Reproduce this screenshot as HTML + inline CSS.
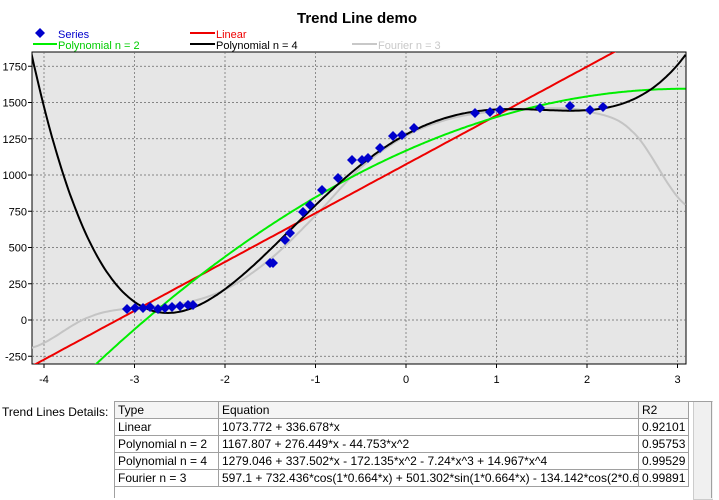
<!DOCTYPE html><html><head><meta charset="utf-8"><style>
body{margin:0;width:719px;height:498px;background:#fff;font-family:"Liberation Sans",sans-serif;overflow:hidden}
svg{position:absolute;left:0;top:0}
.t{position:absolute;font-size:12px}
table{position:absolute;left:114px;top:401px;border-collapse:collapse;font-size:12px;background:#fff}
td{border:1px solid #a0a0a0;padding:0 3px;height:16px;white-space:nowrap;overflow:hidden}
</style></head><body>
<svg width="719" height="400" id="s" font-family="Liberation Sans, sans-serif">
<text x="357" y="23" text-anchor="middle" font-size="15" font-weight="bold">Trend Line demo</text>
<path d="M40 28 L45 33 L40 38 L35 33Z" fill="#0000cc"/>
<text x="58" y="38" font-size="11" fill="#0000cc">Series</text>
<line x1="190" y1="33" x2="215" y2="33" stroke="#e00" stroke-width="2"/><text x="216" y="38" font-size="11" fill="#e00">Linear</text>
<line x1="33" y1="44" x2="57" y2="44" stroke="#0e0" stroke-width="2"/><text x="58" y="49" font-size="11" fill="#0c0">Polynomial n = 2</text>
<line x1="190" y1="44" x2="215" y2="44" stroke="#000" stroke-width="2"/><text x="216" y="49" font-size="11">Polynomial n = 4</text>
<line x1="352" y1="44" x2="377" y2="44" stroke="#c8c8c8" stroke-width="2"/><text x="378" y="49" font-size="11" fill="#c8c8c8">Fourier n = 3</text>
<rect x="32" y="52" width="654" height="312" fill="#e6e6e6" stroke="#000"/>
<g id="g"></g>
<defs><clipPath id="c"><rect x="32" y="52" width="654" height="312"/></clipPath></defs>
<g id="curves" clip-path="url(#c)"></g>
</svg>
<div class="t" style="left:2px;top:405px">Trend Lines Details:</div>
<table>
<tr style="background:#f4f4f4"><td style="width:97px">Type</td><td style="width:413px">Equation</td><td style="width:42px">R2</td></tr>
<tr><td>Linear</td><td>1073.772 + 336.678*x</td><td>0.92101</td></tr>
<tr><td>Polynomial n = 2</td><td>1167.807 + 276.449*x - 44.753*x^2</td><td>0.95753</td></tr>
<tr><td>Polynomial n = 4</td><td>1279.046 + 337.502*x - 172.135*x^2 - 7.24*x^3 + 14.967*x^4</td><td>0.99529</td></tr>
<tr><td>Fourier n = 3</td><td style="max-width:413px">597.1 + 732.436*cos(1*0.664*x) + 501.302*sin(1*0.664*x) - 134.142*cos(2*0.664▸</td><td>0.99891</td></tr>
</table>
<div style="position:absolute;left:693px;top:401px;width:19px;height:97px;background:#f0f0f0;border:1px solid #ccc;border-right:none"></div>
<div style="position:absolute;left:114px;top:401px;width:598px;height:97px;border:1px solid #a0a0a0;border-bottom:none;box-sizing:border-box;pointer-events:none"></div>
<script>
const X=x=>406+x*90.5, Y=y=>320-y*0.145;
let g='';const ns='http://www.w3.org/2000/svg';
for(let i=-4;i<=3;i++){g+=`<line x1="${X(i)}" y1="52" x2="${X(i)}" y2="364" stroke="#666" stroke-dasharray="2,2" stroke-width="0.7"/><line x1="${X(i)}" y1="364" x2="${X(i)}" y2="368" stroke="#000"/><text x="${X(i)}" y="383" font-size="11" text-anchor="middle">${i}</text>`;}
for(let v=-250;v<=1750;v+=250){g+=`<line x1="32" y1="${Y(v)}" x2="686" y2="${Y(v)}" stroke="#666" stroke-dasharray="2,2" stroke-width="0.7"/><line x1="28" y1="${Y(v)}" x2="32" y2="${Y(v)}" stroke="#000"/><text x="27" y="${Y(v)+4}" font-size="11" text-anchor="end">${v}</text>`;}
document.getElementById('g').innerHTML=g;
function path(f,col){let d='';for(let x=-4.15;x<=3.1;x+=0.02){d+=(d?'L':'M')+X(x).toFixed(1)+' '+Y(f(x)).toFixed(1);}return `<path d="${d}" fill="none" stroke="${col}" stroke-width="2"/>`;}
const pts=[[-4.13,-190],[-3.5,20],[-3,85],[-2.5,110],[-2,210],[-1.5,420],[-1,720],[-0.5,1050],[0,1270],[0.5,1390],[1,1440],[1.5,1460],[2,1440],[2.5,1300],[3.1,790]];
function four(x){let i=0;while(i<pts.length-2&&x>pts[i+1][0])i++;const p0=pts[Math.max(i-1,0)],p1=pts[i],p2=pts[i+1],p3=pts[Math.min(i+2,pts.length-1)];const t=Math.max(0,Math.min(1,(x-p1[0])/(p2[0]-p1[0])));const m1=(p2[1]-p0[1])/2,m2=(p3[1]-p1[1])/2;const t2=t*t,t3=t2*t;return (2*t3-3*t2+1)*p1[1]+(t3-2*t2+t)*m1+(-2*t3+3*t2)*p2[1]+(t3-t2)*m2;}
let c=path(four,'#c4c4c4');
c+=path(x=>1073.772+336.678*x,'#e00');
c+=path(x=>1167.807+276.449*x-44.753*x*x,'#0e0');
c+=path(x=>1279.046+337.502*x-172.135*x*x-7.24*x**3+14.967*x**4,'#000');
const dp=[[127,309],[135,308],[143,308],[150,307],[158,309],[165,308],[172,307],[180,306],[188,305],[193,305],[270,263],[273,263],[285,240],[290,233],[303,212],[310,205],[322,190],[338,178],[352,160],[362,160],[368,158],[380,148],[393,136],[402,135],[414,128],[475,113],[490,112],[500,110],[540,108],[570,106],[590,110],[603,107]];
for(const [x,y] of dp)c+=`<path d="M${x} ${y-5}L${x+5} ${y}L${x} ${y+5}L${x-5} ${y}Z" fill="#0000cc"/>`;
document.getElementById('curves').innerHTML=c;
</script>
</body></html>
